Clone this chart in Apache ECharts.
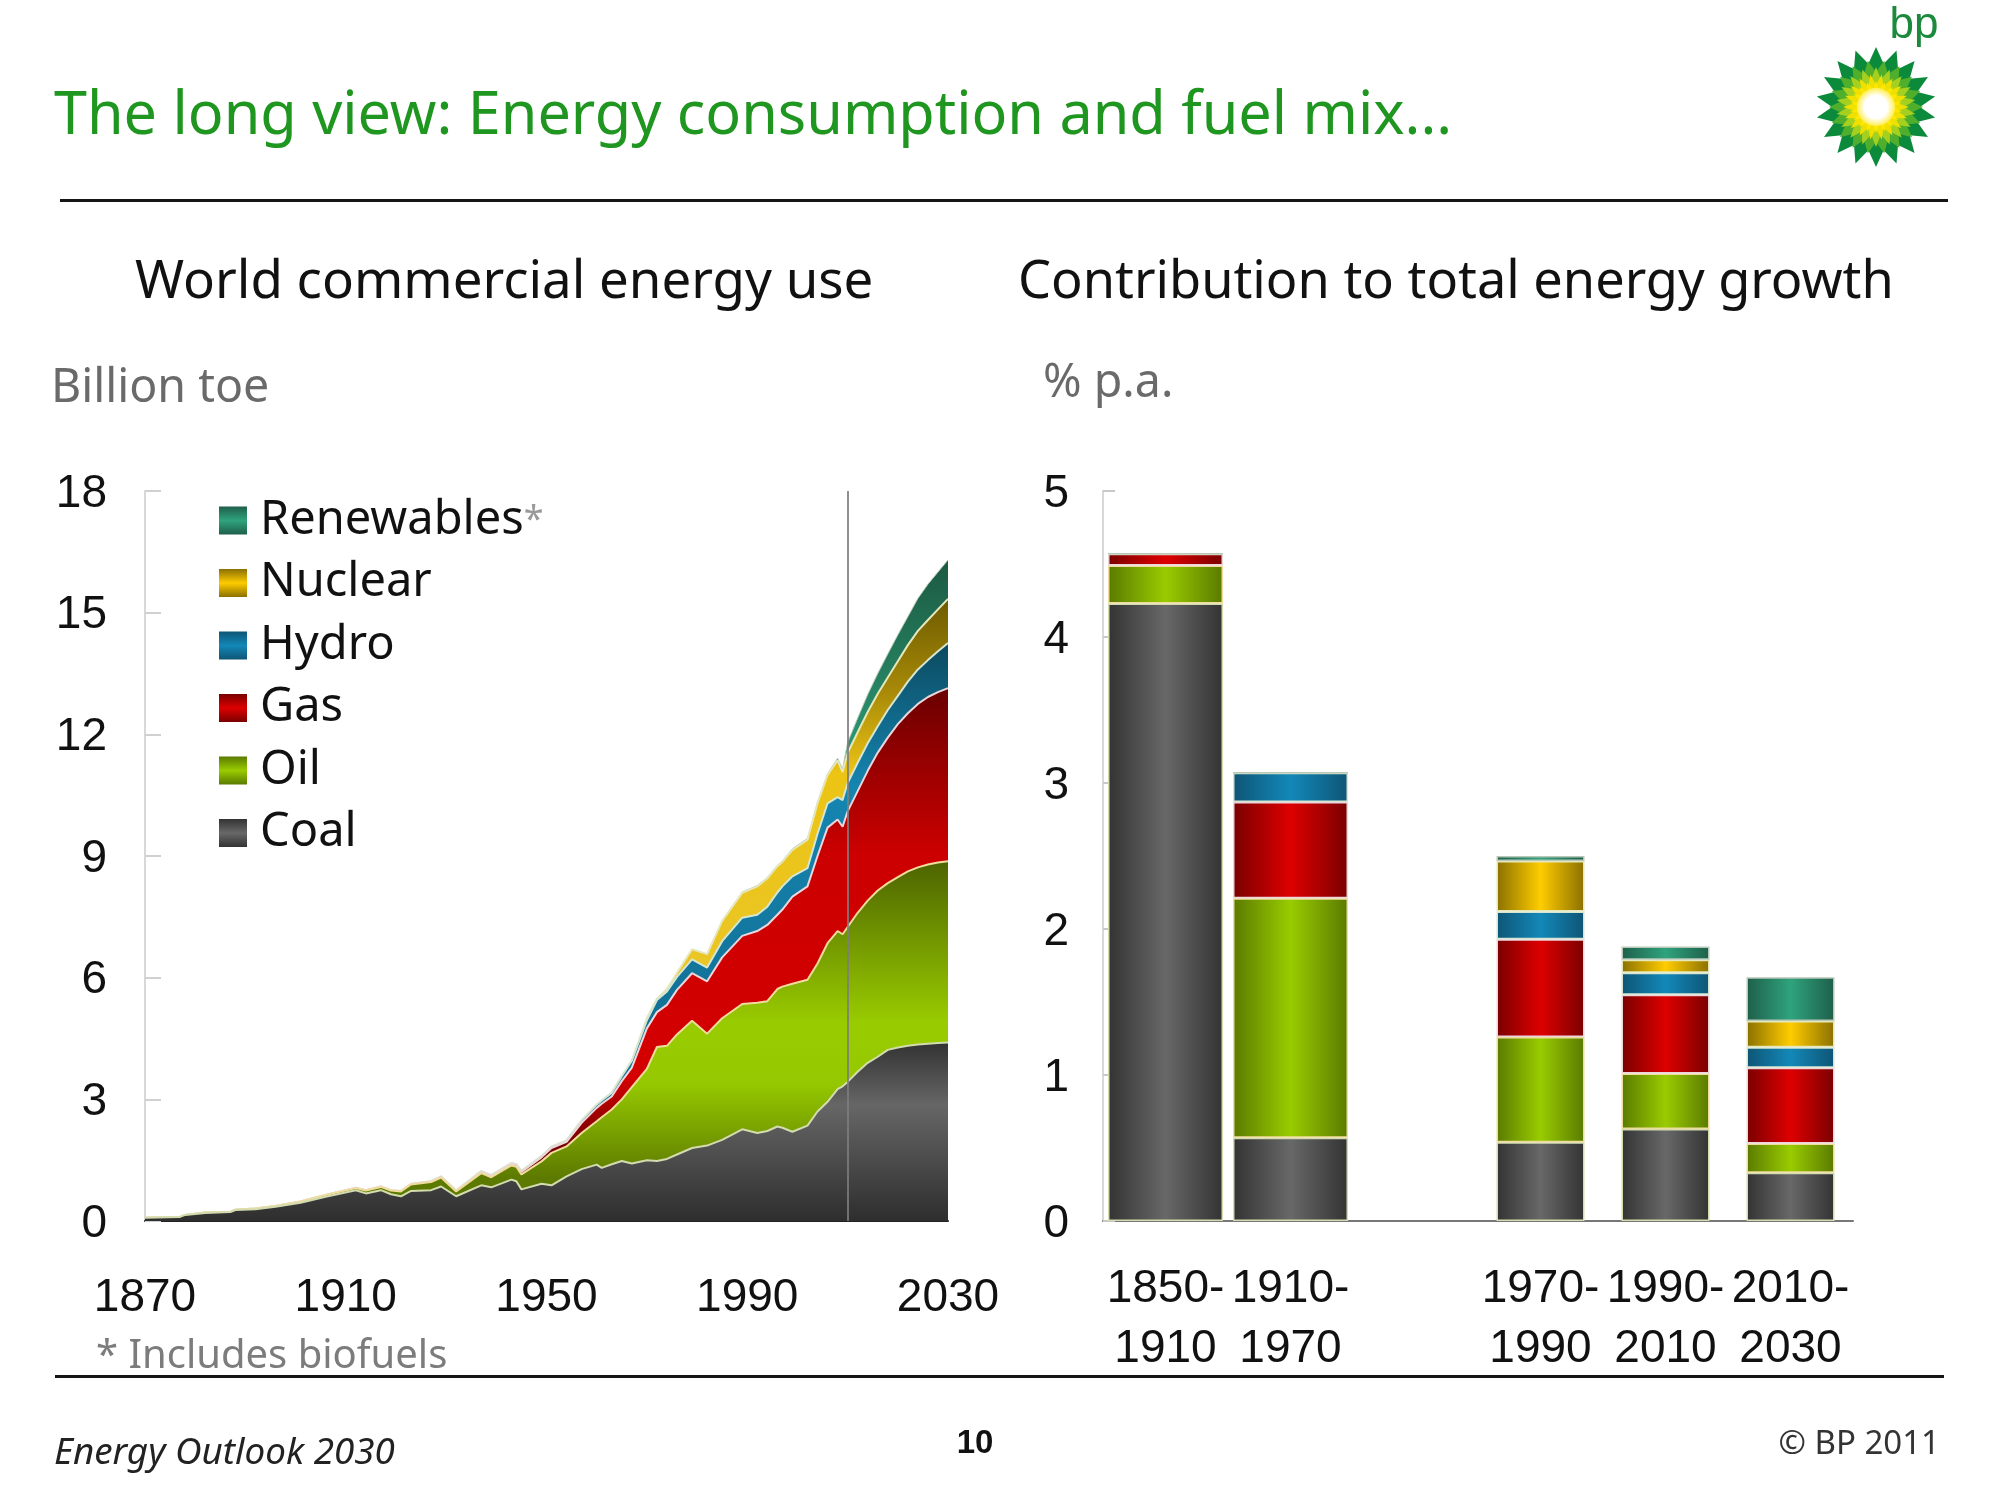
<!DOCTYPE html>
<html>
<head>
<meta charset="utf-8">
<style>html,body{margin:0;background:#fff}#chart{width:2000px;height:1496px}</style>
<script src="https://cdn.jsdelivr.net/npm/echarts@6/dist/echarts.min.js"></script>
</head>
<body>
<div id="chart"></div>
<script>
// left chart, billion toe per fuel
var years = [1870,1877,1878,1882,1887,1888,1892,1896,1901,1906,1912,1914,1917,1919,1921,1923,1927,1929,1932,1937,1939,1943,1944,1945,1949,1951,1954,1957,1960,1961,1963,1965,1967,1970,1972,1974,1976,1979,1982,1985,1989,1992,1994,1996,1997,1999,2002,2004,2006,2008,2009,2010,2012,2014,2016,2018,2020,2022,2024,2026,2028,2030];
var coal = [.08,.10,.15,.20,.22,.27,.29,.35,.45,.60,.76,.68,.76,.66,.61,.74,.76,.85,.61,.88,.83,1.02,.98,.78,.92,.88,1.10,1.28,1.39,1.31,1.40,1.48,1.42,1.50,1.48,1.53,1.64,1.80,1.86,2.00,2.26,2.17,2.22,2.33,2.30,2.20,2.35,2.70,2.94,3.25,3.32,3.43,3.68,3.90,4.05,4.22,4.28,4.32,4.35,4.37,4.39,4.40];
var oil = [0,0,0,.01,.01,.01,.02,.02,.03,.04,.05,.07,.08,.09,.12,.16,.20,.22,.12,.30,.25,.35,.36,.37,.55,.80,.74,.89,1.07,1.25,1.35,1.52,1.88,2.25,2.81,2.79,2.96,3.14,2.76,3.00,3.09,3.21,3.20,3.39,3.48,3.65,3.60,3.65,3.91,3.90,3.75,3.82,3.92,4.00,4.10,4.11,4.20,4.30,4.37,4.42,4.45,4.47];
var gas = [0,0,0,0,0,0,0,0,0,0,.01,.01,.01,.01,.01,.01,.01,.02,.01,.03,.03,.04,.04,.06,.10,.12,.11,.25,.33,.33,.32,.45,.48,1.00,.86,1.01,1.10,1.17,1.29,1.50,1.68,1.77,1.88,1.83,1.90,2.15,2.30,2.65,2.85,2.75,2.65,2.85,3.00,3.20,3.40,3.59,3.77,3.90,4.03,4.13,4.20,4.27];
var hydro = [0,0,0,0,0,0,0,0,0,0,0,0,0,0,0,0,.01,.01,.01,.02,.02,.02,.02,.02,.03,.03,.04,.06,.08,.08,.09,.12,.17,.20,.30,.33,.32,.34,.34,.40,.45,.40,.45,.55,.57,.50,.45,.55,.60,.55,.66,.70,.70,.68,.65,.68,.70,.78,.85,.91,1.01,1.11];
var nuclear = [0,0,0,0,0,0,0,0,0,0,0,0,0,0,0,0,0,0,0,0,0,0,0,0,0,0,0,0,0,0,0,0,0,.05,.03,.06,.10,.25,.33,.50,.61,.70,.70,.65,.61,.65,.70,.75,.70,.91,.69,.74,.75,.77,.80,.80,.85,.90,.95,.99,1.03,1.09];
var renewables = [0,0,0,0,0,0,0,0,0,0,0,0,0,0,0,0,0,0,0,0,0,0,0,0,0,0,0,0,0,0,0,0,0,0,0,0,0,0,0,0,.02,.02,.02,.02,.02,.03,.03,.03,.03,.05,.08,.26,.35,.43,.50,.58,.65,.70,.80,.88,.92,.96];
var yearTicks = [1870,1910,1950,1990,2030];

// right chart, % p.a. per period, the empty slot is the gap in the axis
var periods = ['1850-\n1910','1910-\n1970','','1970-\n1990','1990-\n2010','2010-\n2030'];
var coalGrowth = [4.23,.57,null,.54,.63,.33];
var oilGrowth = [.26,1.64,null,.72,.38,.20];
var gasGrowth = [.08,.66,null,.67,.54,.52];
var hydroGrowth = [0,.20,null,.19,.15,.14];
var nuclearGrowth = [0,0,null,.345,.09,.18];
var renewablesGrowth = [0,0,null,.035,.09,.30];

var FONT = 'Liberation Sans';
var WIDE = 'Noto Sans';
var names = ['Coal','Oil','Gas','Hydro','Nuclear','Renewables'];
var areaData = [coal,oil,gas,hydro,nuclear,renewables];
var barData = [coalGrowth,oilGrowth,gasGrowth,hydroGrowth,nuclearGrowth,renewablesGrowth];
var edge = ['#d3dcae','#f0dc9c','#ecd6dc','#d6e6d2','#e6e8bc','#b8c8b8'];
var dark = ['#333333','#5a7a00','#7a0000','#0e5575','#8a7000','#1e5f4a'];
var bright = ['#686868','#99cc00','#dd0000','#1388b8','#ffcc00','#2fa37d'];

function vgrad(stops) {
    return new echarts.graphic.LinearGradient(0,0,0,1,stops.map(function(s){return {offset:s[0],color:s[1]};}));
}
function hgrad(i) {
    return new echarts.graphic.LinearGradient(0,0,1,0,[{offset:0,color:dark[i]},{offset:.5,color:bright[i]},{offset:1,color:dark[i]}]);
}
var areaFill = [
    vgrad([[0,'#333333'],[.35,'#666666'],[1,'#2e2e2e']]),
    vgrad([[0,'#4d6400'],[.45,'#99cc00'],[.62,'#95c800'],[.88,'#5d7a00'],[1,'#5d7a00']]),
    vgrad([[0,'#6a0000'],[.31,'#cc0000'],[.73,'#d40000'],[.85,'#7a0000'],[1,'#6a0000']]),
    vgrad([[0,'#0c4a60'],[.25,'#1585b0'],[1,'#0f5f80']]),
    vgrad([[0,'#6e5b00'],[.15,'#a88a08'],[.28,'#ecc414'],[1,'#e8c83a']]),
    vgrad([[0,'#1c5a42'],[.3,'#2c9a75'],[1,'#2c9a75']])
];

var series = [];
// echarts stacks on x when both axes are value axes, so the layers are summed here
// and painted back to front
var running = years.map(function(){return 0;});
names.forEach(function(name,i){
    running = running.map(function(v,k){return v+areaData[i][k];});
    var s = {
        name:name, type:'line', xAxisIndex:0, yAxisIndex:0,
        showSymbol:false, smooth:false, z:8-i,
        data:years.map(function(y,k){return [y,running[k]];}),
        lineStyle:{color:edge[i],width:i==5?1:2},
        itemStyle:{color:bright[i]},
        areaStyle:{color:areaFill[i],opacity:1}
    };
    if (i==0) {
        s.markLine = {
            silent:true, symbol:'none', label:{show:false}, z:20,
            lineStyle:{color:'rgba(125,125,125,0.85)',width:2,type:'solid'},
            data:[[{coord:[2010,18]},{coord:[2010,0]}]]
        };
    }
    series.push(s);
});
// wide bars and narrow bars sit on separate x axes so each can have its own barWidth
names.forEach(function(name,i){
    series.push({
        name:name, type:'bar', stack:'wide', xAxisIndex:2, yAxisIndex:1, barWidth:115,
        data:barData[i].map(function(v,k){return k<2?v:null;}),
        itemStyle:{color:hgrad(i),borderColor:edge[i],borderWidth:1.5}
    });
    series.push({
        name:name, type:'bar', stack:'narrow', xAxisIndex:1, yAxisIndex:1, barWidth:88,
        data:barData[i].map(function(v,k){return k>=2?v:null;}),
        itemStyle:{color:hgrad(i),borderColor:edge[i],borderWidth:1.5}
    });
});

// header, footer and logo
function label(text,x,y,size,color,extra) {
    var st = {text:text,x:x,y:y,fontSize:size,fontFamily:WIDE,fill:color,textVerticalAlign:'middle',textAlign:'left'};
    for (var k in extra) st[k]=extra[k];
    return {type:'text',silent:true,style:st};
}
function rule(x,y,w) {
    return {type:'rect',silent:true,shape:{x:x,y:y,width:w,height:3},style:{fill:'#151515'}};
}
var graphics = [
    label('The long view: Energy consumption and fuel mix...',54,117,59.3,'#1f961f'),
    rule(60,199,1888),
    label('World commercial energy use',135,283,52.8,'#111111'),
    label('Contribution to total energy growth',1018,283,52.3,'#111111'),
    label('Billion toe',51,389,46.5,'#6a6a6a'),
    label('% p.a.',1043,384,46.5,'#6a6a6a'),
    label('* Includes biofuels',96,1357,40,'#7c7c7c'),
    rule(55,1375,1889),
    label('Energy Outlook 2030',54,1454,36.8,'#222222',{fontStyle:'italic'}),
    label('10',975,1444,33,'#111111',{fontWeight:'bold',textAlign:'center',fontFamily:FONT}),
    label('\u00a9 BP 2011',1940,1445,33,'#333333',{textAlign:'right'}),
    label('bp',1914,26,44,'#1c8a3c',{textAlign:'center',fontFamily:FONT})
];
var LOGO_X = 1876, LOGO_Y = 107;
var rings = [[28,60,44,0,'#0b8a3c'],[22,47,35,10,'#4fae2c'],[18,40,28,0,'#a6d01f'],[13,33,22,10,'#f0e000'],[10,26,17,0,'#ffe800']];
rings.forEach(function(r){
    for (var p=0;p<18;p++) {
        var a = (p*20+r[3])*Math.PI/180, d = 10*Math.PI/180;
        graphics.push({type:'polygon',silent:true,shape:{points:[
            [LOGO_X+r[0]*Math.sin(a),LOGO_Y-r[0]*Math.cos(a)],
            [LOGO_X+r[2]*Math.sin(a+d),LOGO_Y-r[2]*Math.cos(a+d)],
            [LOGO_X+r[1]*Math.sin(a),LOGO_Y-r[1]*Math.cos(a)],
            [LOGO_X+r[2]*Math.sin(a-d),LOGO_Y-r[2]*Math.cos(a-d)]
        ]},style:{fill:r[4]}});
    }
});
graphics.push({type:'circle',silent:true,shape:{cx:LOGO_X,cy:LOGO_Y,r:19},style:{
    fill:new echarts.graphic.RadialGradient(.5,.5,.5,[{offset:0,color:'#ffffff'},{offset:.6,color:'#ffffff'},{offset:1,color:'#ffee55'}])
}});

var legendGrad = names.map(function(n,i){
    return vgrad([[0,dark[i]],[.5,bright[i]],[1,dark[i]]]);
});
var tickRich = {v:{fontSize:46,color:'#111111',fontFamily:FONT,padding:[6,0,0,0]}};

var myChart = echarts.init(document.getElementById('chart'));
var option = {
    animation:false,
    backgroundColor:'#ffffff',
    textStyle:{fontFamily:FONT},
    grid:[
        {left:145,top:491,width:803,height:730},
        {left:1103,top:491,width:750,height:730}
    ],
    legend:{
        orient:'vertical', left:214, top:492, itemWidth:28, itemHeight:28, itemGap:15.5, z:10,
        selectedMode:false, icon:'rect',
        data:[5,4,3,2,1,0].map(function(i){return {name:names[i],itemStyle:{color:legendGrad[i]}};}),
        formatter:function(name){return name=='Renewables'?'{n|Renewables}{s|*}':'{n|'+name+'}';},
        textStyle:{rich:{
            n:{fontSize:47,lineHeight:46,color:'#111111',fontFamily:WIDE,padding:[0,0,0,8]},
            s:{fontSize:36,lineHeight:46,color:'#999999',fontFamily:WIDE}
        }}
    },
    xAxis:[
        {type:'value',gridIndex:0,min:1870,max:2030,splitLine:{show:false},
            axisLine:{show:true,onZero:false,lineStyle:{color:'#222222',width:2}},axisTick:{show:false},
            axisLabel:{customValues:yearTicks,fontSize:46,color:'#111111',margin:54,fontFamily:FONT,hideOverlap:false,showMinLabel:true,showMaxLabel:true,formatter:function(v){return String(v);}}},
        {type:'category',gridIndex:1,data:periods,
            axisLine:{lineStyle:{color:'#777777',width:2}},axisTick:{show:false},
            axisLabel:{interval:0,fontSize:46,lineHeight:60,color:'#111111',margin:38,fontFamily:FONT}},
        {type:'category',gridIndex:1,data:periods,show:false}
    ],
    yAxis:[
        {type:'value',gridIndex:0,min:0,max:18,interval:3,splitLine:{show:false},
            axisLine:{show:true,lineStyle:{color:'#d8d8d8',width:2}},
            axisTick:{show:true,inside:true,length:16,lineStyle:{color:'#d0d0d0',width:2}},
            axisLabel:{margin:38,formatter:'{v|{value}}',rich:tickRich}},
        {type:'value',gridIndex:1,min:0,max:5,interval:1,splitLine:{show:false},
            axisLine:{show:true,lineStyle:{color:'#d8d8d8',width:2}},
            axisTick:{show:true,inside:true,length:12,lineStyle:{color:'#c8c8c8',width:2}},
            axisLabel:{margin:34,formatter:'{v|{value}}',rich:tickRich}}
    ],
    series:series,
    graphic:graphics
};
myChart.setOption(option);
</script>
</body>
</html>
